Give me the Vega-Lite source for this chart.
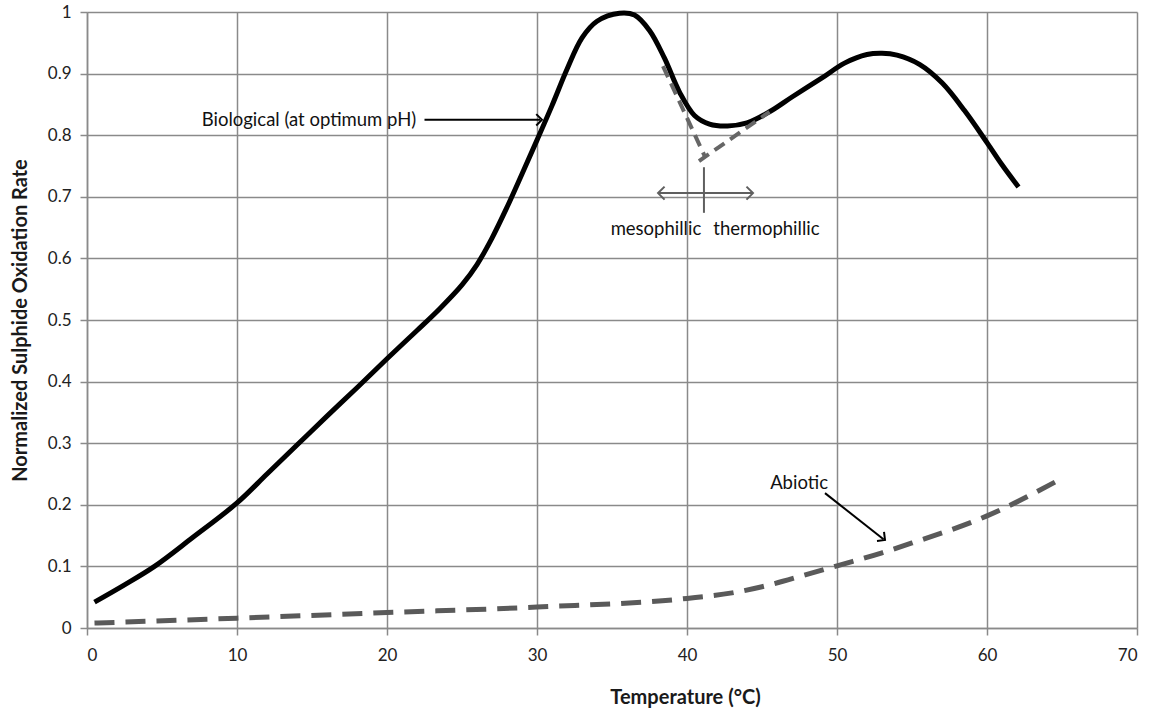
{
  "$schema": "https://vega.github.io/schema/vega-lite/v6.json",
  "width": 1050,
  "height": 616,
  "autosize": "none",
  "padding": {"left": 87, "top": 12, "right": 13, "bottom": 83},
  "background": "white",
  "config": {
    "view": {"stroke": null},
    "font": "Lato",
    "axis": {
      "grid": true,
      "gridColor": "#8a8a8a",
      "gridWidth": 1.5,
      "domainColor": "#8a8a8a",
      "domainWidth": 1.5,
      "tickColor": "#8a8a8a",
      "tickWidth": 1.5,
      "tickSize": 7,
      "labelFont": "Lato",
      "labelFontSize": 17,
      "labelColor": "#222222",
      "titleFont": "Lato",
      "titleFontSize": 20,
      "titleFontWeight": "bold",
      "titleColor": "#1a1a1a"
    }
  },
  "datasets": {
    "bio": [
      {"t": 0.5, "r": 0.042}, {"t": 2.5, "r": 0.07}, {"t": 4.5, "r": 0.1}, {"t": 7, "r": 0.146},
      {"t": 10, "r": 0.203}, {"t": 12, "r": 0.25}, {"t": 14, "r": 0.297}, {"t": 16, "r": 0.344},
      {"t": 18, "r": 0.39}, {"t": 20, "r": 0.437}, {"t": 22, "r": 0.483}, {"t": 23.5, "r": 0.518},
      {"t": 25, "r": 0.557}, {"t": 26, "r": 0.59}, {"t": 27, "r": 0.633}, {"t": 28, "r": 0.683},
      {"t": 29, "r": 0.737}, {"t": 30, "r": 0.792}, {"t": 31, "r": 0.848}, {"t": 32, "r": 0.907},
      {"t": 33, "r": 0.958}, {"t": 34, "r": 0.985}, {"t": 35.5, "r": 0.998}, {"t": 36.5, "r": 0.995},
      {"t": 37.5, "r": 0.97}, {"t": 38.5, "r": 0.925}, {"t": 39.5, "r": 0.87}, {"t": 40.5, "r": 0.832},
      {"t": 41.5, "r": 0.818}, {"t": 42.7, "r": 0.815}, {"t": 44, "r": 0.82}, {"t": 45.5, "r": 0.838},
      {"t": 47, "r": 0.862}, {"t": 49, "r": 0.893}, {"t": 50.5, "r": 0.917}, {"t": 52, "r": 0.931},
      {"t": 53, "r": 0.933}, {"t": 54, "r": 0.93}, {"t": 55.5, "r": 0.915}, {"t": 57, "r": 0.885},
      {"t": 58.5, "r": 0.84}, {"t": 60, "r": 0.788}, {"t": 61, "r": 0.752}, {"t": 62.1, "r": 0.716}
    ],
    "abio": [
      {"t": 0.5, "r": 0.008}, {"t": 10, "r": 0.016}, {"t": 20, "r": 0.025}, {"t": 30, "r": 0.034},
      {"t": 40, "r": 0.048}, {"t": 43, "r": 0.057}, {"t": 45, "r": 0.067}, {"t": 48, "r": 0.087},
      {"t": 50, "r": 0.101}, {"t": 53, "r": 0.122}, {"t": 55, "r": 0.138}, {"t": 60, "r": 0.182},
      {"t": 65, "r": 0.243}
    ],
    "vee": [
      {"branch": "meso", "t": 38.4, "r": 0.912}, {"branch": "meso", "t": 41.2, "r": 0.765},
      {"branch": "thermo", "t": 40.8, "r": 0.758}, {"branch": "thermo", "t": 45.5, "r": 0.838}
    ],
    "shafts": [
      {"id": "bio", "t": 22.5, "t2": 30.2, "r": 0.825, "r2": 0.825, "c": "k"},
      {"id": "abio", "t": 49.2, "t2": 53.1, "r": 0.219, "r2": 0.144, "c": "k"},
      {"id": "range", "t": 38.1, "t2": 44.35, "r": 0.706, "r2": 0.706, "c": "g"},
      {"id": "split", "t": 41.13, "t2": 41.13, "r": 0.748, "r2": 0.674, "c": "g"}
    ]
  },
  "layer": [
    {
      "data": {"name": "bio"},
      "mark": {"type": "line", "color": "#000000", "strokeWidth": 5, "interpolate": "catmull-rom"},
      "encoding": {
        "x": {"field": "t", "type": "quantitative", "scale": {"domain": [0, 70], "nice": false},
          "axis": {"values": [0, 10, 20, 30, 40, 50, 60, 70], "labelPadding": 12, "title": "Temperature (°C)", "titleX": 598, "titleY": 69, "titleAlign": "center", "titleBaseline": "middle"}},
        "y": {"field": "r", "type": "quantitative", "scale": {"domain": [0, 1], "nice": false},
          "axis": {"values": [0, 0.1, 0.2, 0.3, 0.4, 0.5, 0.6, 0.7, 0.8, 0.9, 1], "format": "~g", "labelPadding": 9, "title": "Normalized Sulphide Oxidation Rate", "titleX": -67, "titleBaseline": "middle"}}
      }
    },
    {
      "data": {"name": "abio"},
      "mark": {"type": "line", "color": "#5a5a5a", "strokeWidth": 5, "strokeDash": [20, 11], "interpolate": "monotone"},
      "encoding": {
        "x": {"field": "t", "type": "quantitative"},
        "y": {"field": "r", "type": "quantitative"}
      }
    },
    {
      "data": {"name": "vee"},
      "mark": {"type": "line", "color": "#666666", "strokeWidth": 4, "strokeDash": [12, 7]},
      "encoding": {
        "x": {"field": "t", "type": "quantitative"},
        "y": {"field": "r", "type": "quantitative"},
        "detail": {"field": "branch"}
      }
    },
    {
      "data": {"name": "shafts"},
      "mark": {"type": "rule", "strokeWidth": 2},
      "encoding": {
        "x": {"field": "t", "type": "quantitative"},
        "x2": {"field": "t2"},
        "y": {"field": "r", "type": "quantitative"},
        "y2": {"field": "r2"},
        "color": {"field": "c", "type": "nominal", "scale": {"domain": ["k", "g"], "range": ["#000000", "#5f5f5f"]}, "legend": null}
      }
    },
    {
      "data": {"values": [{"t": 30.33, "r": 0.825}]},
      "mark": {"type": "point", "shape": "M-1,-1L0,0L-1,1", "filled": false, "size": 130, "strokeWidth": 2, "color": "#000000", "opacity": 1},
      "encoding": {
        "x": {"field": "t", "type": "quantitative"},
        "y": {"field": "r", "type": "quantitative"}
      }
    },
    {
      "data": {"values": [{"t": 53.2, "r": 0.143}]},
      "mark": {"type": "point", "shape": "M-1,-1L0,0L-1,1", "filled": false, "size": 130, "strokeWidth": 2, "color": "#000000", "opacity": 1, "angle": 38},
      "encoding": {
        "x": {"field": "t", "type": "quantitative"},
        "y": {"field": "r", "type": "quantitative"}
      }
    },
    {
      "data": {"values": [{"t": 44.4, "r": 0.706}]},
      "mark": {"type": "point", "shape": "M-1,-1L0,0L-1,1", "filled": false, "size": 170, "strokeWidth": 2, "color": "#5f5f5f", "opacity": 1},
      "encoding": {
        "x": {"field": "t", "type": "quantitative"},
        "y": {"field": "r", "type": "quantitative"}
      }
    },
    {
      "data": {"values": [{"t": 38.07, "r": 0.706}]},
      "mark": {"type": "point", "shape": "M-1,-1L0,0L-1,1", "filled": false, "size": 170, "strokeWidth": 2, "color": "#5f5f5f", "opacity": 1, "angle": 180},
      "encoding": {
        "x": {"field": "t", "type": "quantitative"},
        "y": {"field": "r", "type": "quantitative"}
      }
    },
    {
      "data": {"values": [{"label": "Biological (at optimum pH)", "t": 21.95, "r": 0.825}, {"label": "mesophillic", "t": 40.95, "r": 0.648}]},
      "mark": {"type": "text", "fontSize": 18.5, "font": "Lato", "color": "#111111", "baseline": "middle", "align": "right"},
      "encoding": {
        "x": {"field": "t", "type": "quantitative"},
        "y": {"field": "r", "type": "quantitative"},
        "text": {"field": "label"}
      }
    },
    {
      "data": {"values": [{"label": "thermophillic", "t": 41.75, "r": 0.648}]},
      "mark": {"type": "text", "fontSize": 18.5, "font": "Lato", "color": "#111111", "baseline": "middle", "align": "left"},
      "encoding": {
        "x": {"field": "t", "type": "quantitative"},
        "y": {"field": "r", "type": "quantitative"},
        "text": {"field": "label"}
      }
    },
    {
      "data": {"values": [{"label": "Abiotic", "t": 47.47, "r": 0.236}]},
      "mark": {"type": "text", "fontSize": 18.5, "font": "Lato", "color": "#111111", "baseline": "middle", "align": "center"},
      "encoding": {
        "x": {"field": "t", "type": "quantitative"},
        "y": {"field": "r", "type": "quantitative"},
        "text": {"field": "label"}
      }
    }
  ]
}
